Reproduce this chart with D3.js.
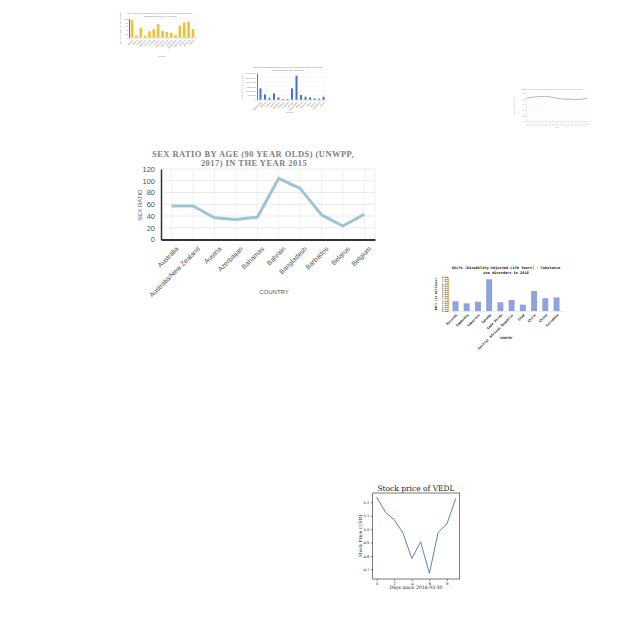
<!DOCTYPE html>
<html><head><meta charset="utf-8">
<script src="https://cdn.jsdelivr.net/npm/d3@7"></script>
<style>html,body{margin:0;padding:0;background:#fff;}svg{display:block;}</style>
</head><body>
<script>
// ---------- DATA ----------
const sexCategories = ["Australia","Australia/New Zealand","Austria","Azerbaijan","Bahamas","Bahrain","Bangladesh","Barbados","Belarus","Belgium"];
const sexValues = [57,57,37,34,38,104,87,42,23,43];
const sexTicks = [0,20,40,60,80,100,120];

const yellowCategories = ["Albania","Algeria","Angola","Argentina","Armenia","Australia","Austria","Azerbaijan","Bahamas","Bahrain","Bangladesh","Barbados","Belarus","Belgium","Belize"];
const yellowValues = [91,12,51,9,33,44,70,35,30,25,12,62,79,83,44];

const blueCategories = ["Afghanistan","Albania","Algeria","Angola","Argentina","Armenia","Australia","Austria","Bangladesh","Belarus","Belgium","Benin","Bolivia","Botswana","Brazil"];
const blueValues = [1270000,595000,225000,708000,258000,79000,79000,1270000,2700000,528000,337000,258000,146000,112000,337000];

const lineYears = [1990,1991,1992,1993,1994,1995,1996,1997,1998,1999,2000,2001,2002,2003,2004,2005,2006];
const lineValues = [0.82,0.84,0.86,0.87,0.88,0.88,0.87,0.84,0.81,0.79,0.78,0.78,0.77,0.76,0.77,0.79,0.81];

const dalyCategories = ["Burundi","Cambodia","Cameroon","Canada","Cape Verde","Central African Republic","Chad","Chile","China","Colombia"];
const dalyValues = [2.3,1.8,2.2,7.45,2.05,2.6,1.5,4.7,3.0,3.2];

const stockDays = [0,1,2,3,4,5,6,7,8,9];
const stockPrices = [5.24,5.126,5.07,4.97,4.78,4.905,4.67,4.975,5.04,5.23];

// ---------- SVG ----------
const svg = d3.select("body").append("svg").attr("width",640).attr("height",640);
svg.append("rect").attr("width",640).attr("height",640).attr("fill","#fff");

// ===== Main chart: Sex ratio =====
(function(){
  const g = svg.append("g");
  const x = d3.scalePoint().domain(sexCategories).range([161,375]).padding(0.5);
  const y = d3.scaleLinear().domain([0,120]).range([239.5,169]);
  g.append("g").selectAll("line.h").data(sexTicks).join("line")
    .attr("x1",161).attr("x2",375).attr("y1",d=>y(d)).attr("y2",d=>y(d))
    .attr("stroke","#e6e6e6").attr("stroke-width",0.8);
  g.append("g").selectAll("line.v").data(sexCategories).join("line")
    .attr("x1",d=>x(d)).attr("x2",d=>x(d)).attr("y1",y(120)).attr("y2",y(0))
    .attr("stroke","#ececec").attr("stroke-width",0.8);
  g.append("line").attr("x1",375).attr("x2",375).attr("y1",y(120)).attr("y2",y(0)).attr("stroke","#ececec").attr("stroke-width",0.8);
  const ya = g.append("g").attr("transform","translate(161,0)")
    .call(d3.axisLeft(y).tickValues(sexTicks).tickSize(0).tickPadding(6));
  ya.select(".domain").attr("stroke","#333").attr("stroke-width",1.5);
  ya.selectAll("text").attr("font-family","Liberation Sans, Arial, sans-serif").attr("font-size",7.5).attr("fill","#555");
  const xa = g.append("g").attr("transform","translate(0,239.5)")
    .call(d3.axisBottom(x).tickSize(0).tickPadding(4));
  xa.select(".domain").attr("stroke","#333").attr("stroke-width",2);
  xa.selectAll("text").attr("font-family","Liberation Sans, Arial, sans-serif").attr("font-size",6.8).attr("fill","#555")
    .attr("text-anchor","end").attr("dy","0").attr("transform","translate(4,7) rotate(-45)");
  g.append("path").datum(sexValues.map((v,i)=>[sexCategories[i],v]))
    .attr("d",d3.line().x(d=>x(d[0])).y(d=>y(d[1])))
    .attr("fill","none").attr("stroke","#9fc3d6").attr("stroke-width",3).attr("stroke-linejoin","round");
  const t = g.append("text").attr("text-anchor","middle").attr("font-family","Liberation Serif, DejaVu Serif, serif")
    .attr("font-weight","bold").attr("font-size",8.5).attr("fill","#808080").attr("letter-spacing",0.45);
  t.append("tspan").attr("x",253).attr("y",157).text("SEX RATIO BY AGE (90 YEAR OLDS) (UNWPP,");
  t.append("tspan").attr("x",254).attr("y",166).text("2017) IN THE YEAR 2015");
  g.append("text").attr("transform","translate(142,205) rotate(-90)").attr("text-anchor","middle")
    .attr("font-family","Liberation Sans, Arial, sans-serif").attr("font-size",6).attr("fill","#555").text("SEX RATIO");
  g.append("text").attr("x",274).attr("y",294).attr("text-anchor","middle")
    .attr("font-family","Liberation Sans, Arial, sans-serif").attr("font-size",6).attr("fill","#555").text("COUNTRY");
})();

// ===== Small bar chart helper =====
function smallBar(opts){
  const g = svg.append("g");
  const x = d3.scaleBand().domain(opts.cats).range([opts.x0,opts.x1]).padding(opts.pad);
  const y = d3.scaleLinear().domain([0,opts.max]).range([opts.base,opts.top]);
  g.append("g").selectAll("line").data(y.ticks(opts.nt)).join("line")
    .attr("x1",opts.x0).attr("x2",opts.x1).attr("y1",d=>y(d)).attr("y2",d=>y(d))
    .attr("stroke","#eeeeee").attr("stroke-width",0.4);
  g.append("g").selectAll("rect").data(opts.vals).join("rect")
    .attr("x",(d,i)=>x(opts.cats[i])).attr("width",x.bandwidth())
    .attr("y",d=>y(d)).attr("height",d=>opts.base-y(d)).attr("fill",opts.color);
  const ya = g.append("g").attr("transform",`translate(${opts.x0},0)`)
    .call(d3.axisLeft(y).ticks(opts.nt).tickFormat(opts.fmt||d3.format(",")).tickSize(0).tickPadding(1));
  ya.select(".domain").attr("stroke",opts.axisColor).attr("stroke-width",opts.axisW||0.8);
  ya.selectAll("text").attr("font-size",opts.fs).attr("fill","#777").attr("font-family",opts.font);
  const xa = g.append("g").attr("transform",`translate(0,${opts.base})`).call(d3.axisBottom(x).tickSize(0).tickPadding(1));
  xa.select(".domain").attr("stroke","#bbb").attr("stroke-width",0.5);
  xa.selectAll("text").attr("font-size",opts.fs).attr("fill",opts.tickColor||"#777").attr("font-family",opts.font)
    .attr("text-anchor","end").attr("dy","0").attr("transform",`translate(${opts.fs*0.3},${opts.fs}) rotate(-45)`);
  const t = g.append("text").attr("text-anchor","middle").attr("font-size",opts.tfs).attr("fill",opts.tcolor||"#777")
    .attr("font-family",opts.font);
  opts.title.forEach((s,i)=>t.append("tspan").attr("x",opts.tx).attr("y",opts.ty+i*opts.tfs*1.25).text(s));
  g.append("text").attr("x",opts.xlx).attr("y",opts.xly).attr("text-anchor","middle").attr("font-size",opts.fs)
    .attr("fill","#777").attr("font-family",opts.font).text(opts.xlabel);
  g.append("text").attr("transform",`translate(${opts.ylx},${(opts.base+opts.top)/2}) rotate(-90)`).attr("text-anchor","middle")
    .attr("font-size",opts.fs).attr("fill","#777").attr("font-family",opts.font).text(opts.ylabel);
  return g;
}

smallBar({cats:yellowCategories, vals:yellowValues, x0:129, x1:196, pad:0.4, max:100, nt:5,
  base:37.5, top:18.5, color:"#f2c12e", axisColor:"#444", axisW:0.8, fs:2.2, font:"Liberation Sans, Arial, sans-serif",
  title:["Sex ratio of the population by age group in selected countries,","including data in the year 2015"], tx:160, ty:13.5, tfs:2.4,
  xlabel:"Country", xlx:162, xly:57, ylabel:"Sex ratio (males per 100 females)", ylx:121});

smallBar({cats:blueCategories, vals:blueValues, x0:257, x1:327, pad:0.55, max:3000000, nt:6,
  base:99.7, top:73, color:"#4472c4", axisColor:"#3a5a9a", axisW:0.8, fs:2.2, font:"Liberation Sans, Arial, sans-serif",
  title:["Number of deaths attributed to an environmental factor by country,","including data in the year 2004"], tx:288, ty:68, tfs:2.4,
  xlabel:"Country", xlx:290, xly:113, ylabel:"Deaths attributed to factor", ylx:243});

// ===== Top-right line chart =====
(function(){
  const g = svg.append("g");
  const x = d3.scalePoint().domain(lineYears).range([526,588]).padding(0.3);
  const y = d3.scaleLinear().domain([0,1]).range([121,93]);
  g.append("g").selectAll("line").data(y.ticks(6)).join("line")
    .attr("x1",526).attr("x2",588).attr("y1",d=>y(d)).attr("y2",d=>y(d)).attr("stroke","#f0f0f0").attr("stroke-width",0.4);
  const ya = g.append("g").attr("transform","translate(526,0)").call(d3.axisLeft(y).ticks(6).tickSize(0).tickPadding(1));
  ya.select(".domain").attr("stroke","#ccc").attr("stroke-width",0.4);
  ya.selectAll("text").attr("font-size",2).attr("fill","#999").attr("font-family","Liberation Sans, sans-serif");
  const xa = g.append("g").attr("transform","translate(0,121)").call(d3.axisBottom(x).tickSize(0).tickPadding(1));
  xa.select(".domain").attr("stroke","#ccc").attr("stroke-width",0.4);
  xa.selectAll("text").attr("font-size",1.8).attr("fill","#999").attr("font-family","Liberation Sans, sans-serif")
    .attr("text-anchor","end").attr("dy","0").attr("transform","translate(0.5,2) rotate(-45)");
  g.append("path").datum(lineValues.map((v,i)=>[lineYears[i],v]))
    .attr("d",d3.line().curve(d3.curveMonotoneX).x(d=>x(d[0])).y(d=>y(d[1])))
    .attr("fill","none").attr("stroke","#a9b2bd").attr("stroke-width",0.9);
  g.append("text").attr("x",552).attr("y",89.5).attr("text-anchor","middle").attr("font-size",2.2).attr("fill","#999")
    .attr("font-family","Liberation Sans, sans-serif").text("Share of the population with access to improved water sources");
  g.append("text").attr("x",557).attr("y",128).attr("text-anchor","middle").attr("font-size",2).attr("fill","#999")
    .attr("font-family","Liberation Sans, sans-serif").text("Year");
  g.append("text").attr("transform","translate(515,107) rotate(-90)").attr("text-anchor","middle").attr("font-size",2).attr("fill","#999")
    .attr("font-family","Liberation Sans, sans-serif").text("Share of population");
})();

// ===== DALY chart =====
(function(){
  const g = svg.append("g");
  const x = d3.scaleBand().domain(dalyCategories).range([448,564]).paddingInner(0.47).paddingOuter(0.4);
  const y = d3.scaleLinear().domain([0,8]).range([311,277]);
  const ticks = d3.range(0,8.5,0.5);
  g.append("g").selectAll("rect").data(dalyValues).join("rect")
    .attr("x",(d,i)=>x(dalyCategories[i])).attr("width",x.bandwidth())
    .attr("y",d=>y(d)).attr("height",d=>311-y(d)).attr("fill","#8ea2dc");
  const ya = g.append("g").attr("transform","translate(448,0)").call(d3.axisLeft(y).tickValues(ticks).tickSize(1.5).tickPadding(0.5).tickFormat(d3.format(".1f")));
  ya.select(".domain").attr("stroke","#e3a35a").attr("stroke-width",0.8);
  ya.selectAll(".tick line").attr("stroke","#222").attr("stroke-width",0.6);
  ya.selectAll("text").attr("font-size",2.2).attr("fill","#222").attr("font-family","DejaVu Sans Mono, monospace").attr("font-weight","bold");
  const xa = g.append("g").attr("transform","translate(0,311)").call(d3.axisBottom(x).tickSize(0).tickPadding(1));
  xa.select(".domain").attr("stroke","#ccc").attr("stroke-width",0.4);
  xa.selectAll("text").attr("font-size",3.4).attr("fill","#222").attr("font-family","DejaVu Sans Mono, monospace").attr("font-weight","bold")
    .attr("text-anchor","end").attr("dy","0").attr("transform","translate(1.5,3.5) rotate(-45)");
  const t = g.append("text").attr("text-anchor","middle").attr("font-size",3.6).attr("fill","#222")
    .attr("font-family","DejaVu Sans Mono, monospace").attr("font-weight","bold");
  t.append("tspan").attr("x",506).attr("y",268.5).text("DALYs (Disability-Adjusted Life Years) - Substance");
  t.append("tspan").attr("x",506).attr("y",273.5).text("use disorders in 2010");
  g.append("text").attr("x",506).attr("y",339).attr("text-anchor","middle").attr("font-size",3).attr("fill","#222")
    .attr("font-family","DejaVu Sans Mono, monospace").attr("font-weight","bold").text("COUNTRY");
  g.append("text").attr("transform","translate(437,294) rotate(-90)").attr("text-anchor","middle").attr("font-size",3).attr("fill","#222")
    .attr("font-family","DejaVu Sans Mono, monospace").attr("font-weight","bold").text("DALY (in millions)");
})();

// ===== Stock chart =====
(function(){
  const g = svg.append("g");
  const x = d3.scaleLinear().domain([-0.45,9.45]).range([372.7,459.7]);
  const y = d3.scaleLinear().domain([4.627,5.27]).range([579,493]);
  g.append("rect").attr("x",372.7).attr("y",493).attr("width",87).attr("height",86).attr("fill","none").attr("stroke","#222").attr("stroke-width",0.6);
  const ya = g.append("g").attr("transform","translate(372.7,0)").call(d3.axisLeft(y).tickValues([4.7,4.8,4.9,5.0,5.1,5.2]).tickFormat(d3.format(".1f")).tickSize(2).tickPadding(1.5));
  ya.select(".domain").remove();
  ya.selectAll("line").attr("stroke","#222").attr("stroke-width",0.5);
  ya.selectAll("text").attr("font-size",3.6).attr("fill","#222").attr("font-family","DejaVu Sans, sans-serif");
  const xa = g.append("g").attr("transform","translate(0,579)").call(d3.axisBottom(x).tickValues([0,2,4,6,8]).tickFormat(d3.format("d")).tickSize(2).tickPadding(1.5));
  xa.select(".domain").remove();
  xa.selectAll("line").attr("stroke","#222").attr("stroke-width",0.5);
  xa.selectAll("text").attr("font-size",3.6).attr("fill","#222").attr("font-family","DejaVu Sans, sans-serif");
  g.append("path").datum(stockDays.map((d,i)=>[d,stockPrices[i]]))
    .attr("d",d3.line().x(d=>x(d[0])).y(d=>y(d[1])))
    .attr("fill","none").attr("stroke","#4c72b0").attr("stroke-width",0.9);
  g.append("text").attr("x",416).attr("y",491).attr("text-anchor","middle").attr("font-size",7.5).attr("fill","#222")
    .attr("font-family","DejaVu Serif, serif").text("Stock price of VEDL");
  g.append("text").attr("x",416).attr("y",589).attr("text-anchor","middle").attr("font-size",4.6).attr("fill","#222")
    .attr("font-family","DejaVu Serif, serif").text("Days since 2016-03-30");
  g.append("text").attr("transform","translate(362,536) rotate(-90)").attr("text-anchor","middle").attr("font-size",4.6).attr("fill","#222")
    .attr("font-family","DejaVu Serif, serif").text("Stock Price (USD)");
})();
</script>
</body></html>
